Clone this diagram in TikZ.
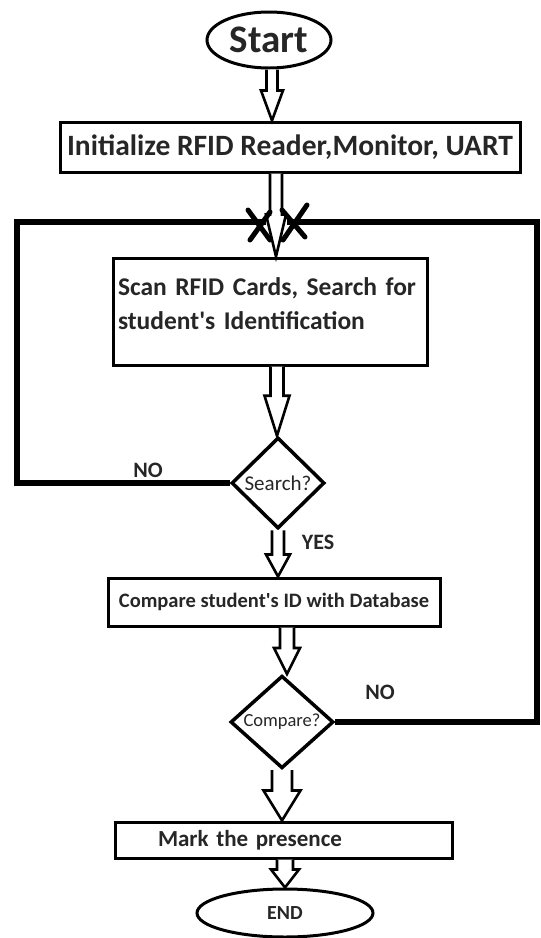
\documentclass[tikz,border=0pt]{standalone}
\usepackage{fontspec}
\setmainfont{Carlito}
\usetikzlibrary{shapes.geometric,calc}

\tikzset{
  boxnode/.style={draw, line width=3pt, inner sep=0pt, text=black!85, font=\bfseries},
  decision/.style={draw, diamond, line width=3.5pt, inner sep=0pt, aspect=1, text=black!85},
  terminal/.style={draw, ellipse, line width=3pt, inner sep=0pt, text=black!85},
  loopline/.style={line width=6pt},
  crossmark/.style={line width=5pt, line cap=round},
  arrowline/.style={line width=2.6pt, line join=miter, fill=white},
  answer/.style={text=black!85, font=\bfseries\fontsize{22}{24}\selectfont}
}

% hollow down arrow: from, to, half shaft, half head, head length
\newcommand{\hollowarrow}[5]{%
  \draw[arrowline] let \p1=(#1), \p2=(#2) in
    ({\x2-#3pt},\y1) -- ({\x2-#3pt},{\y2+#5pt}) -- ({\x2-#4pt},{\y2+#5pt}) -- (\x2,\y2)
    -- ({\x2+#4pt},{\y2+#5pt}) -- ({\x2+#3pt},{\y2+#5pt}) -- ({\x2+#3pt},\y1);}

\begin{document}
\begin{tikzpicture}[x=1pt,y=-1pt]
  \useasboundingbox (0,0) rectangle (541,938);

  % Start and end
  \node[terminal, minimum width=124, minimum height=56, font=\bfseries\fontsize{39}{42}\selectfont]
    (start) at (269,40) {Start};
  \node[terminal, minimum width=176, minimum height=48, font=\bfseries\fontsize{20}{22}\selectfont]
    (finish) at (285,913) {END};

  % Process boxes
  \node[boxnode, minimum width=460, minimum height=50, font=\bfseries\fontsize{29.5}{31}\selectfont]
    (init) at (290,147) {Initialize RFID Reader,Monitor, UART};
  \node[boxnode, minimum width=314, minimum height=107, text width=304, align=left,
    font=\bfseries\fontsize{25.5}{34}\selectfont]
    (scan) at (270,311.5) {Scan RFID Cards, Search for\\student\textquotesingle s Identification\\[-18pt]\mbox{}};
  \node[boxnode, minimum width=332, minimum height=48, font=\bfseries\fontsize{20.5}{22}\selectfont]
    (cmpbox) at (274,602) {Compare student\textquotesingle s ID with Database};
  \node[boxnode, minimum width=337, minimum height=36, text width=251, align=left,
    font=\bfseries\fontsize{23}{25}\selectfont]
    (mark) at (283.5,840) {Mark the presence};

  % Decisions
  \node[decision, minimum width=93, minimum height=91, font=\fontsize{21}{23}\selectfont]
    (search) at (278,483) {Search?};
  \node[decision, minimum width=103, minimum height=91, font=\fontsize{18.5}{20}\selectfont]
    (compare) at (282,722) {Compare?};

  % Loop back corners
  \coordinate (cornerL) at (17,222);
  \coordinate (cornerR) at (537,222);
  \coordinate (joinL) at (266,222);
  \coordinate (joinR) at (287,222);

  % Drawing loop lines
  \draw[loopline] (search.west) -| (cornerL) -- (joinL);
  \draw[loopline] (compare.east) -| (cornerR) -- (joinR);

  % Drawing hollow arrows
  \hollowarrow{$(start.south)+(3,0)$}{$(init.north)+(-18,0)$}{5.5}{11}{30}
  \hollowarrow{$(init.south)+(-14,0)$}{$(scan.north)+(6,0)$}{6}{10}{42}
  \hollowarrow{$(scan.south)+(7,0)$}{$(search.north)+(-1,0)$}{6.5}{12.5}{40}
  \hollowarrow{search.south}{$(cmpbox.north)+(4,0)$}{6}{12}{22}
  \hollowarrow{$(cmpbox.south)+(13,0)$}{$(compare.north)+(5,0)$}{7}{13}{26}
  \hollowarrow{compare.south}{$(mark.north)+(-1.5,0)$}{10}{18.5}{30}
  \hollowarrow{$(mark.south)+(1.5,0)$}{finish.north}{8}{14}{18}

  % Marking the crossing on the loop
  \draw[crossmark] (248,210) -- (270,240) (250,240) -- (270,212);
  \draw[crossmark] (282,210) -- (305,237) (283,240) -- (307,205);

  % Marking answers
  \node[answer] (noA) at (148,470) {NO};
  \node[answer] (noB) at (380,692) {NO};
  \node[answer] (yes) at (318,542) {YES};
\end{tikzpicture}
\end{document}
